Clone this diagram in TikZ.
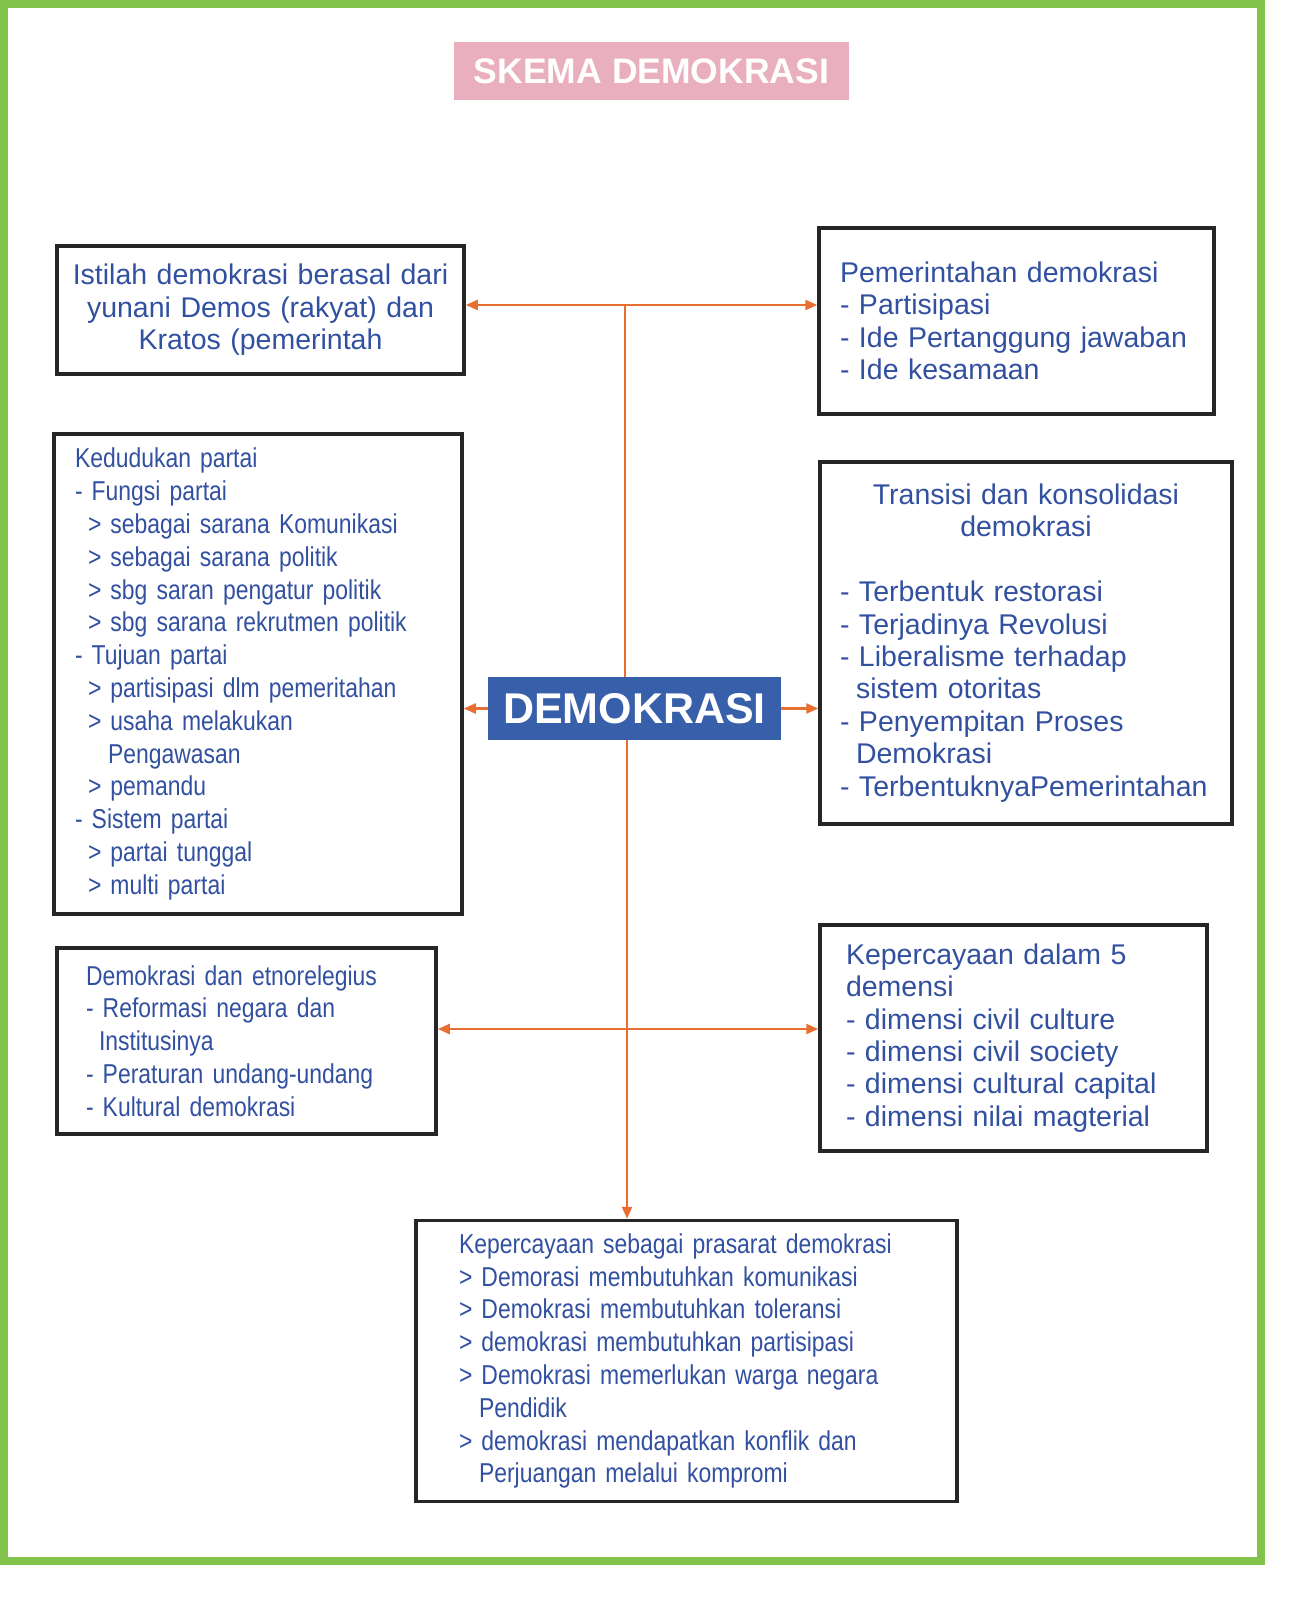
\documentclass[tikz,border=0pt]{standalone}
\usepackage{fontspec}
\setmainfont{Liberation Sans}
\newfontfamily\narrowf{Liberation Sans}[FakeStretch=0.84]
\usetikzlibrary{arrows.meta}
\definecolor{txtblue}{RGB}{50,80,160}
\definecolor{boxblue}{RGB}{55,95,170}
\definecolor{lineorange}{RGB}{232,110,50}
\definecolor{framegreen}{RGB}{130,195,75}
\definecolor{titlepink}{RGB}{233,175,190}
\begin{document}
\begin{tikzpicture}[x=1pt,y=-1pt,
  box/.style={draw=black!85,line width=3.5pt,text=txtblue,align=left,inner sep=0pt},
  big/.style={font=\fontsize{28.5}{32.4}\selectfont},
  small/.style={font=\narrowf\fontsize{27.3}{32.8}\selectfont},
  link/.style={draw=lineorange,line width=2.4pt,-{Triangle[length=12pt,width=10pt]}},
  both/.style={link,{Triangle[length=12pt,width=10pt]}-{Triangle[length=12pt,width=10pt]}}]
\useasboundingbox (0,0) rectangle (1291,1600);
\draw[framegreen,line width=8pt] (4,4) rectangle (1261,1561);

\node[fill=titlepink,text=white,font=\bfseries\fontsize{35.5}{40}\selectfont,
  minimum width=395pt,minimum height=58pt,inner sep=0pt] (title) at (651.5,71) {SKEMA DEMOKRASI};

\node[fill=boxblue,text=white,font=\bfseries\fontsize{43}{46}\selectfont,
  minimum width=293pt,minimum height=63pt,inner sep=0pt] (E) at (634.5,708.5) {DEMOKRASI};

\node[box,big,align=center,text width=390pt,minimum width=407pt,minimum height=128pt] (A) at (260.5,310)
  {Istilah demokrasi berasal dari\\yunani Demos (rakyat) dan\\Kratos (pemerintah};

\node[box,big,text width=353pt,minimum width=395pt,minimum height=186pt] (B) at (1016.5,321)
  {Pemerintahan demokrasi\\- Partisipasi\\- Ide Pertanggung jawaban\\- Ide kesamaan};

\node[box,small,text width=366pt,minimum width=408pt,minimum height=480pt] (C) at (258,674)
  {Kedudukan partai\\- Fungsi partai\\
   \hspace*{13pt}> sebagai sarana Komunikasi\\
   \hspace*{13pt}> sebagai sarana politik\\
   \hspace*{13pt}> sbg saran pengatur politik\\
   \hspace*{13pt}> sbg sarana rekrutmen politik\\
   - Tujuan partai\\
   \hspace*{13pt}> partisipasi dlm pemeritahan\\
   \hspace*{13pt}> usaha melakukan\\
   \hspace*{33pt}Pengawasan\\
   \hspace*{13pt}> pemandu\\
   - Sistem partai\\
   \hspace*{13pt}> partai tunggal\\
   \hspace*{13pt}> multi partai};

\node[box,big,text width=372pt,minimum width=412pt,minimum height=362pt] (D) at (1026,643)
  {\makebox[372pt]{Transisi dan konsolidasi}\\
   \makebox[372pt]{demokrasi}\\
   \mbox{}\\
   - Terbentuk restorasi\\
   - Terjadinya Revolusi\\
   - Liberalisme terhadap\\
   \hspace*{16pt}sistem otoritas\\
   - Penyempitan Proses\\
   \hspace*{16pt}Demokrasi\\
   - TerbentuknyaPemerintahan};

\node[box,small,text width=321pt,minimum width=379pt,minimum height=186pt] (F) at (246.5,1041)
  {Demokrasi dan etnorelegius\\
   - Reformasi negara dan\\
   \hspace*{13pt}Institusinya\\
   - Peraturan undang-undang\\
   - Kultural demokrasi};

\node[box,big,text width=335pt,minimum width=387pt,minimum height=226pt] (G) at (1013.5,1038)
  {Kepercayaan dalam 5\\demensi\\- dimensi civil culture\\- dimensi civil society\\
   - dimensi cultural capital\\- dimensi nilai magterial};

\node[box,small,text width=455pt,minimum width=541pt,minimum height=281pt] (H) at (686.5,1361)
  {Kepercayaan sebagai prasarat demokrasi\\
   > Demorasi membutuhkan komunikasi\\
   > Demokrasi membutuhkan toleransi\\
   > demokrasi membutuhkan partisipasi\\
   > Demokrasi memerlukan warga negara\\
   \hspace*{20pt}Pendidik\\
   > demokrasi mendapatkan konflik dan\\
   \hspace*{20pt}Perjuangan melalui kompromi};

\coordinate (top) at (625,305);
\coordinate (mid) at (627,1029);
\draw[link,-] (E.north -| top) -- (top);
\draw[both] (A.east |- top) -- (B.west |- top);
\draw[link] (E.west) -- (C.east |- E.west);
\draw[link] (E.east) -- (D.west |- E.east);
\draw[link] (E.south -| mid) -- (H.north -| mid);
\draw[both] (F.east |- mid) -- (G.west |- mid);
\end{tikzpicture}
\end{document}
